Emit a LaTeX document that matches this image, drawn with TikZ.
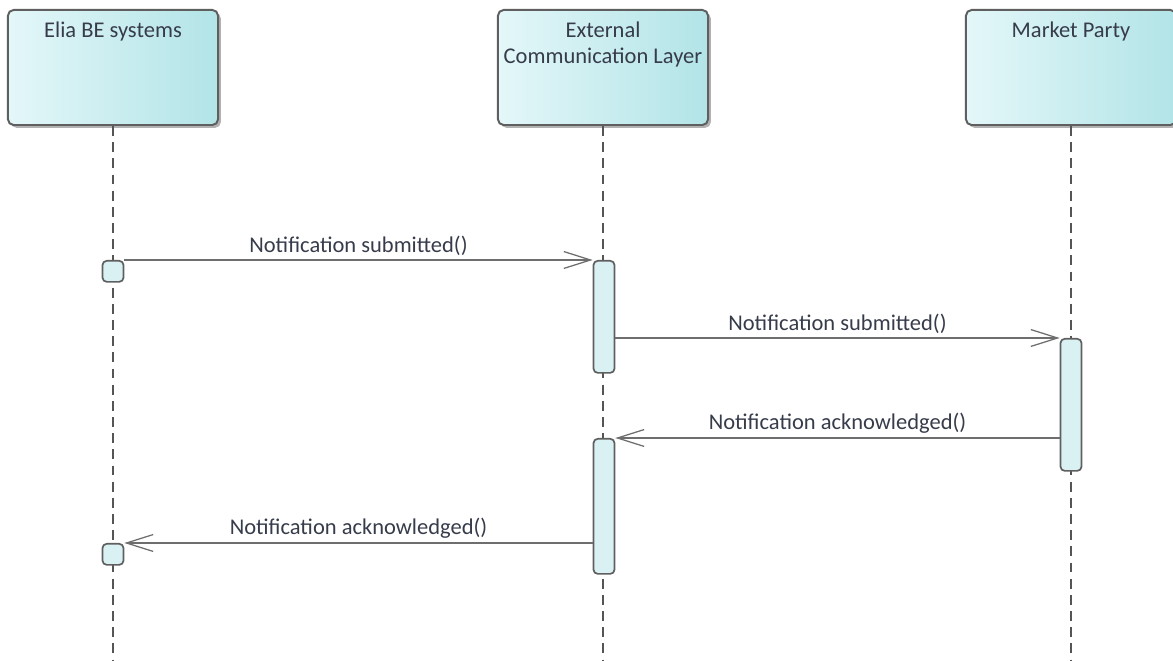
\documentclass[tikz,border=0pt]{standalone}
\usepackage{fontspec}
\setmainfont{Carlito}
\usetikzlibrary{arrows.meta,shadows}
\definecolor{boxline}{RGB}{95,95,95}
\definecolor{actorleft}{RGB}{228,247,249}
\definecolor{actorright}{RGB}{178,228,231}
\definecolor{actfill}{RGB}{218,241,243}
\definecolor{msggray}{RGB}{110,110,110}
\definecolor{lifegray}{RGB}{85,85,85}
\definecolor{txt}{RGB}{55,60,75}

\begin{document}
\begin{tikzpicture}[x=0.025cm, y=-0.025cm,
		actor/.style={draw=boxline, line width=1.4pt, rounded corners=4pt, left color=actorleft, right color=actorright, minimum width=5.25cm, minimum height=2.875cm, drop shadow={shadow xshift=2pt, shadow yshift=-2pt, fill=black, opacity=0.3}},
		actorname/.style={anchor=north, align=center, text=txt, font=\fontsize{16}{18.5}\selectfont, yshift=-5.5pt},
		act/.style={draw=boxline, line width=1.2pt, rounded corners=3pt, fill=actfill, minimum width=0.525cm, inner sep=0pt, anchor=north},
		lifeline/.style={draw=lifegray, line width=0.9pt, dash pattern=on 7pt off 4.5pt},
		msg/.style={draw=msggray, line width=0.9pt, -{Straight Barb[length=19pt, width=12pt]}},
		msglabel/.style={midway, above, text=txt, font=\fontsize{16}{18}\selectfont, inner sep=2.5pt}]
			\useasboundingbox (0,0) rectangle (1173,661);
			% Lifeline heads:
			\node[actor, label={[actorname]north:Elia BE systems}] (elia) at (113,67.5) {};
			\node[actor, label={[actorname]north:{External\\Communication Layer}}] (ecl) at (603,67.5) {};
			\node[actor, label={[actorname]north:Market Party}] (mp) at (1071,67.5) {};
			\coordinate (eliaend) at (113,661);
			\coordinate (eclend) at (603,661);
			\coordinate (mpend) at (1071,661);
			\draw[lifeline] (elia.south) -- (eliaend);
			\draw[lifeline] (ecl.south) -- (eclend);
			\draw[lifeline] (mp.south) -- (mpend);
			% Activations:
			\node[act, minimum height=0.525cm] (elia1) at (113,260) {};
			\node[act, minimum height=2.8cm] (ecl1) at (604,260) {};
			\node[act, minimum height=3.3cm] (mp1) at (1071,338) {};
			\node[act, minimum height=3.375cm] (ecl2) at (604,438) {};
			\node[act, minimum height=0.525cm] (elia2) at (113,543) {};
			% Messages:
			\draw[msg] (elia1.north east) -- (ecl1.north west) node[msglabel]{Notification submitted()};
			\draw[msg] (ecl1.east |- mp1.north) -- (mp1.north west) node[msglabel]{Notification submitted()};
			\draw[msg] (mp1.west |- ecl2.north) -- (ecl2.north east) node[msglabel]{Notification acknowledged()};
			\draw[msg] (ecl2.west |- elia2.north) -- (elia2.north east) node[msglabel]{Notification acknowledged()};
		\end{tikzpicture}
\end{document}
